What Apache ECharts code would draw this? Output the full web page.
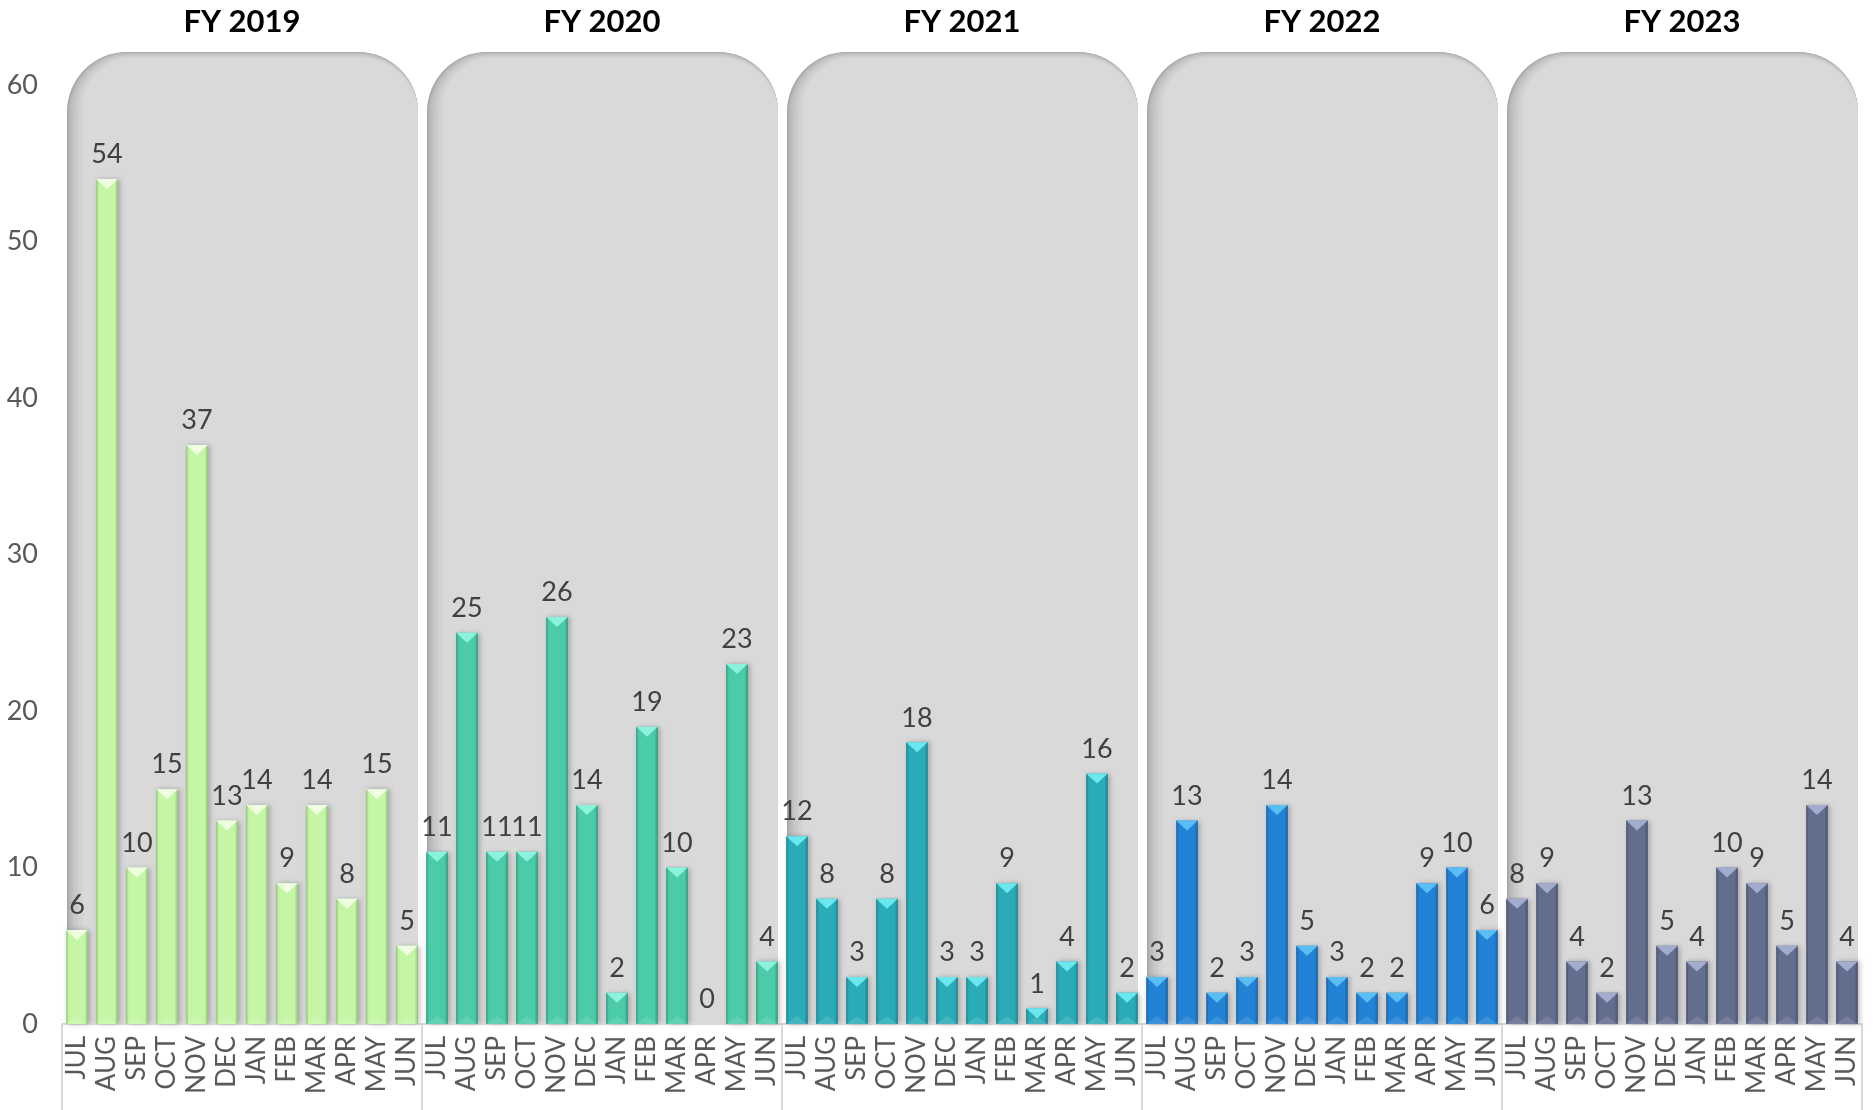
<!DOCTYPE html>
<html><head><meta charset="utf-8">
<script src="https://cdn.jsdelivr.net/npm/echarts@6/dist/echarts.min.js"></script>
<style>html,body{margin:0;padding:0;background:#fff}#c{width:1873px;height:1110px}</style>
</head><body><div id="c"></div>
<script>
// ---- data ----
const months = ['JUL','AUG','SEP','OCT','NOV','DEC','JAN','FEB','MAR','APR','MAY','JUN'];
const fiscalYears = ['FY 2019','FY 2020','FY 2021','FY 2022','FY 2023'];
const fy2019 = [6,54,10,15,37,13,14,9,14,8,15,5];
const fy2020 = [11,25,11,11,26,14,2,19,10,0,23,4];
const fy2021 = [12,8,3,8,18,3,3,9,1,4,16,2];
const fy2022 = [3,13,2,3,14,5,3,2,2,9,10,6];
const fy2023 = [8,9,4,2,13,5,4,10,9,5,14,4];
const yMin = 0, yMax = 60, yInterval = 10;

// ---- styles ----
const palettes = [
  {edge:'#93c87a', center:'#c4f6a6', top:'#f4ffe8'},
  {edge:'#2a9a7e', center:'#4ccba9', top:'#92f6e2'},
  {edge:'#177f89', center:'#29acb8', top:'#74edf4'},
  {edge:'#145fa6', center:'#2282d6', top:'#60c4f7'},
  {edge:'#454e6a', center:'#636d8e', top:'#a8b2d6'}
];
const FONT = 'Lato, "Noto Sans", sans-serif';

const allSeriesValues = [fy2019, fy2020, fy2021, fy2022, fy2023];
const categories = [];
fiscalYears.forEach(() => months.forEach(m => categories.push(m)));

function hexLerp(a, b, t){
  const pa=[1,3,5].map(i=>parseInt(a.substr(i,2),16));
  const pb=[1,3,5].map(i=>parseInt(b.substr(i,2),16));
  return 'rgb('+pa.map((v,k)=>Math.round(v+(pb[k]-v)*t)).join(',')+')';
}

function bgRender(params, api){
  const start = api.value(0), end = api.value(1), fi = api.value(2);
  const band = api.size([1,0])[0];
  const b0 = api.coord([start, yMin]);
  const b1 = api.coord([end, yMin]);
  const topY = api.coord([start, yMax])[1] - 33;
  const bottom = b0[1];
  const left = b0[0] - band/2 + 5;
  const right = b1[0] + band/2 - 4;
  const R = 60;
  const children = [];
  const N = 14;
  for (let i = 0; i <= N; i++){
    const t = i/N;
    const e = Math.sqrt(t);
    const x = left + i*1.2;
    const y = topY + i*0.45;
    children.push({type:'rect', shape:{x:x, y:y, width:right-x, height:bottom-y, r:[Math.max(R-i*0.8,0), Math.max(R-i*0.2,0), 0, 0]},
      style:{fill: hexLerp('#a4a4a4', '#d9d9d9', e)}});
  }
  // separators below axis
  const sepL = b0[0] - band/2;
  children.push({type:'line', shape:{x1:sepL, y1:bottom, x2:sepL, y2:1110}, style:{stroke:'#d9d9d9', lineWidth:2}});
  if (fi === fiscalYears.length-1){
    const sepR = b1[0] + band/2;
    children.push({type:'line', shape:{x1:sepR, y1:bottom, x2:sepR, y2:1110}, style:{stroke:'#d9d9d9', lineWidth:2}});
  }
  children.push({type:'text', style:{text: fiscalYears[fi], x:(b0[0]+b1[0])/2, y:22, align:'center', verticalAlign:'middle',
    fill:'#000', font:'bold 31px ' + FONT}});
  return {type:'group', children};
}

function makeBarRender(pal){
  return function(params, api){
    const idx = api.value(0), v = api.value(1);
    const base = api.coord([idx, 0]);
    const top = api.coord([idx, v]);
    const band = api.size([1,0])[0];
    const bw = band*0.72;
    const l = base[0]-bw/2, r = base[0]+bw/2;
    const h = base[1]-top[1];
    const children = [];
    if (h > 0.5){
      children.push({type:'rect', shape:{x:l, y:top[1], width:bw, height:h},
        style:{fill:new echarts.graphic.LinearGradient(0,0,1,0,[
          {offset:0, color:pal.edge},{offset:0.12, color:pal.center},{offset:0.5, color:pal.center},
          {offset:0.85, color:pal.center},{offset:1, color:pal.edge}]),
          shadowBlur:5, shadowOffsetX:2, shadowOffsetY:0, shadowColor:'rgba(0,0,0,0.25)'}});
      const th = Math.min(10, h);
      children.push({type:'polygon', shape:{points:[[l,top[1]],[r,top[1]],[base[0],top[1]+th]]}, style:{fill:pal.top, opacity:0.9}});
      const bh = Math.min(8, h);
      children.push({type:'polygon', shape:{points:[[l,base[1]],[r,base[1]],[base[0],base[1]-bh]]}, style:{fill:'rgba(255,255,255,0.12)'}});
    }
    children.push({type:'text', style:{text:String(v), x:base[0], y:top[1]-11, align:'center', verticalAlign:'bottom',
      fill:'#404040', font:'27px ' + FONT}});
    return {type:'group', children};
  };
}

const series = [{
  type:'custom', z:1, silent:true,
  renderItem: bgRender,
  data: fiscalYears.map((fy,i)=>[i*months.length, i*months.length+months.length-1, i])
}];
allSeriesValues.forEach((vals, fi) => {
  series.push({
    type:'custom', z:3, name:fiscalYears[fi],
    renderItem: makeBarRender(palettes[fi]),
    data: vals.map((v,k)=>[fi*months.length+k, v])
  });
});

const chart = echarts.init(document.getElementById('c'));
chart.setOption({
  animation:false,
  grid:{left:62, right:11, top:85, bottom:86},
  xAxis:{type:'category', data:categories, boundaryGap:true,
    axisLine:{show:true, lineStyle:{color:'#d9d9d9', width:2}},
    axisTick:{show:false},
    axisLabel:{interval:0, rotate:90, fontSize:26, color:'#595959', margin:12, fontFamily:FONT}},
  yAxis:{type:'value', min:yMin, max:yMax, interval:yInterval,
    splitLine:{show:false}, axisLine:{show:false}, axisTick:{show:false},
    axisLabel:{fontSize:27, color:'#595959', margin:24, fontFamily:FONT}},
  series
});
</script></body></html>
